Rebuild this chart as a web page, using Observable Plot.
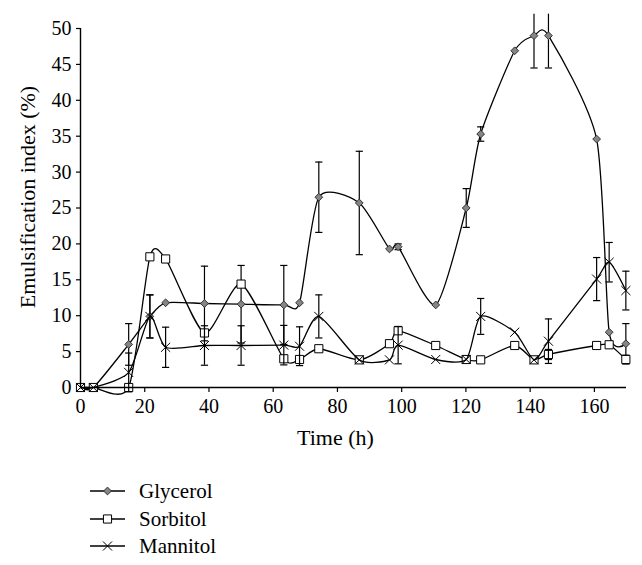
<!DOCTYPE html>
<html><head><meta charset="utf-8">
<script src="https://cdn.jsdelivr.net/npm/d3@7"></script>
<script src="https://cdn.jsdelivr.net/npm/@observablehq/plot@0.6"></script>
<style>
body{margin:0;background:#fff;font:20px 'Liberation Serif';}
#wrap{position:relative;width:642px;height:565px;background:#fff;font:20px 'Liberation Serif';}
#legend{display:block;}
#wrap svg, #wrap svg text{font-family:'Liberation Serif' !important;}
</style></head><body><div id="wrap"><div id="chart"></div><svg id="legend" width="642" height="95"></svg></div>
<script>
const time = [0, 4, 15, 21.6, 26.5, 38.6, 50, 63.3, 68.2, 74.2, 86.8, 96.2, 98.9, 110.6, 120.1, 124.6, 135.2, 141.2, 145.7, 160.7, 164.6, 169.8];
const glycerol    = [0, 0, 6.0, 9.9, 11.8, 11.7, 11.6, 11.5, 11.8, 26.5, 25.7, 19.3, 19.6, 11.5, 25.0, 35.3, 46.9, 49.0, 49.0, 34.6, 7.7, 6.1];
const glycerolErr = [0, 0, 2.9, 3.0, 0, 5.2, 5.4, 5.5, 0, 4.9, 7.2, 0, 0.4, 0, 2.7, 1.0, 0, 4.5, 4.5, 0, 0, 2.8];
const sorbitol    = [0, 0, 0, 18.2, 17.9, 7.6, 14.4, 4.0, 3.9, 5.4, 3.85, 6.1, 7.9, 5.85, 3.9, 3.85, 5.85, 3.85, 4.6, 5.85, 5.95, 3.9];
const sorbitolErr = [0, 0, 0, 0, 0, 0, 0, 0, 0, 0, 0, 0, 0, 0, 0, 0, 0, 0, 0.7, 0, 0, 0.6];
const mannitol    = [0, 0, 2.1, 9.9, 5.6, 5.85, 5.85, 5.9, 5.75, 9.9, 3.85, 3.85, 5.9, 3.9, 3.9, 9.9, 7.7, 3.85, 6.45, 15.1, 17.45, 13.5];
const mannitolErr = [0, 0, 2.7, 3.0, 2.8, 2.75, 2.75, 2.75, 2.7, 3.0, 0, 0, 2.6, 0, 0, 2.5, 0, 0, 3.1, 3.0, 2.75, 2.7];
const seriesNames = ["Glycerol", "Sorbitol", "Mannitol"];
const xTicks = [0, 20, 40, 60, 80, 100, 120, 140, 160];
const yTicks = [0, 5, 10, 15, 20, 25, 30, 35, 40, 45, 50];
const plotTop = 52; // error bars clipped at chart plot-area top

const FONT = "Liberation Serif";
const values = [glycerol, sorbitol, mannitol];
const errs = [glycerolErr, sorbitolErr, mannitolErr];
const styles = [
  {symbol: "diamond2", r: 3.5, fill: "#858585", stroke: "#333"},
  {symbol: "square", r: 4.6, fill: "white", stroke: "black"},
  {symbol: "times", r: 4.2, fill: "none", stroke: "black"}
];
const capSymbol = {draw(ctx, size) { const w = Math.sqrt(size / Math.PI); ctx.moveTo(-w, 0); ctx.lineTo(w, 0); }};

const marks = [];
seriesNames.forEach((name, i) => {
  const rows = time.map((t, j) => ({series: name, t, v: values[i][j], e: errs[i][j]}));
  const eb = rows.filter(d => d.e > 0);
  marks.push(Plot.line(rows, {x: "t", y: "v", curve: "cardinal", tension: 0.3, stroke: "black", strokeWidth: 1.3}));
  marks.push(Plot.ruleX(eb, {x: "t", y1: d => d.v - d.e, y2: d => Math.min(d.v + d.e, plotTop), stroke: "black", strokeWidth: 1.2}));
  marks.push(Plot.dot(eb, {x: "t", y: d => d.v - d.e, symbol: capSymbol, r: 3.6, fill: "none", stroke: "black", strokeWidth: 1.2}));
  marks.push(Plot.dot(eb.filter(d => d.v + d.e <= plotTop), {x: "t", y: d => d.v + d.e, symbol: capSymbol, r: 3.6, fill: "none", stroke: "black", strokeWidth: 1.2}));
  const s = styles[i];
  marks.push(Plot.dot(rows, {x: "t", y: "v", symbol: s.symbol, r: s.r, fill: s.fill, stroke: s.stroke, strokeWidth: 1}));
});

const chart = Plot.plot({
  width: 642, height: 470,
  marginTop: 28, marginBottom: 83, marginLeft: 80, marginRight: 16,
  style: {fontFamily: FONT, fontSize: "20px", color: "black", background: "white", overflow: "visible"},
  x: {domain: [0, 170]},
  y: {domain: [0, 50]},
  marks: [
    Plot.axisX({ticks: xTicks, tickSize: 5, tickPadding: 6, label: null, tickFormat: d => String(d), strokeWidth: 1.2, fontFamily: FONT}),
    Plot.axisY({ticks: yTicks, tickSize: 4, tickPadding: 5, label: null, tickFormat: d => String(d), strokeWidth: 1.2, fontFamily: FONT}),
    ...marks,
    Plot.ruleY([0], {stroke: "black", strokeWidth: 1.4}),
    Plot.ruleX([0], {stroke: "black", strokeWidth: 1.4}),
    Plot.text(["Time (h)"], {frameAnchor: "bottom", dy: 57, dx: -18, fontSize: 22, fill: "black", fontFamily: FONT}),
    Plot.text(["Emulsification index (%)"], {frameAnchor: "left", textAnchor: "middle", rotate: -90, dx: -53, dy: -11, fontSize: 22, fill: "black", fontFamily: FONT})
  ]
});
document.getElementById("chart").appendChild(chart);

// legend below the plot
const leg = d3.select("#legend");
const rowsY = [21, 49, 76];
seriesNames.forEach((name, i) => {
  const s = styles[i];
  const g = leg.append("g").attr("transform", `translate(0,${rowsY[i]})`);
  g.append("line").attr("x1", 90).attr("x2", 125).attr("y1", 0).attr("y2", 0).attr("stroke", "black").attr("stroke-width", 1.3);
  const symType = {diamond2: d3.symbolDiamond2, square: d3.symbolSquare, times: d3.symbolTimes}[s.symbol];
  g.append("path").attr("transform", "translate(107.5,0)")
    .attr("d", d3.symbol(symType, Math.PI * s.r * s.r)())
    .attr("fill", s.fill).attr("stroke", s.stroke).attr("stroke-width", 1);
  g.append("text").attr("x", 139).attr("y", 7).style("font-family", FONT).style("font-size", "21px").attr("fill", "black").text(name);
});
</script></body></html>
